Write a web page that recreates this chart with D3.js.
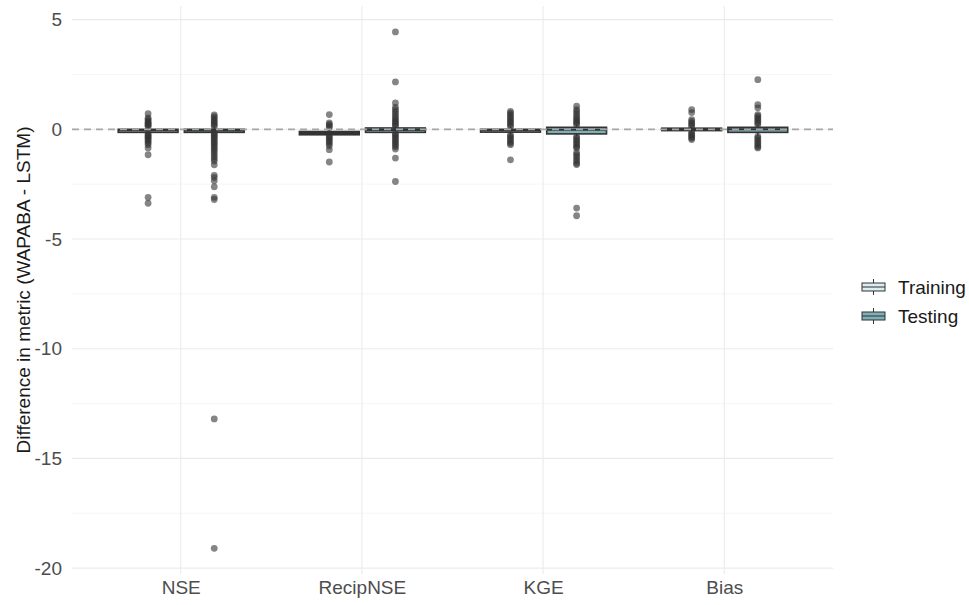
<!DOCTYPE html>
<html>
<head>
<meta charset="utf-8">
<script src="https://cdn.jsdelivr.net/npm/d3@7"></script>
<style>
  body { margin: 0; background: #fff; }
  text { font-family: "Liberation Sans", Arial, sans-serif; }
</style>
</head>
<body>
<svg id="chart" width="969" height="605"></svg>
<script>
// ---- Data ----
const categories = ["NSE", "RecipNSE", "KGE", "Bias"];
const seriesNames = ["Training", "Testing"];
const seriesFill = ["#d9edf3", "#7fb0b8"];

// box stats per category [Training, Testing]
const q1 = { NSE: [-0.14, -0.14], RecipNSE: [-0.25, -0.14], KGE: [-0.13, -0.21], Bias: [-0.06, -0.14] };
const med = { NSE: [-0.06, -0.06], RecipNSE: [-0.17, -0.03], KGE: [-0.06, -0.02], Bias: [0.0, 0.0] };
const q3 = { NSE: [0.0, 0.0], RecipNSE: [-0.1, 0.06], KGE: [0.0, 0.09], Bias: [0.05, 0.09] };
const whiskLo = { NSE: [-0.2, -0.16], RecipNSE: [-0.28, -0.18], KGE: [-0.25, -0.32], Bias: [-0.14, -0.32] };
const whiskHi = { NSE: [0.13, 0.14], RecipNSE: [0.08, 0.14], KGE: [0.13, 0.21], Bias: [0.13, 0.21] };

const outNSETrain = [0.71, 0.52, 0.45, 0.38, 0.32, 0.27, 0.22, 0.17, 0.13, -0.2, -0.25, -0.3, -0.36, -0.42, -0.48, -0.55, -0.62, -0.7, -0.85, -1.16, -3.1, -3.37];
const outNSETest = [0.66, 0.58, 0.5, 0.42, 0.35, 0.28, 0.2, 0.14, -0.16, -0.22, -0.28, -0.35, -0.42, -0.5, -0.58, -0.65, -0.72, -0.8, -0.88, -0.96, -1.05, -1.15, -1.25, -1.35, -1.45, -1.62, -2.1, -2.2, -2.35, -2.62, -3.1, -3.2, -13.2, -19.1];
const outRecipTrain = [0.67, 0.29, 0.22, 0.15, 0.08, -0.28, -0.35, -0.42, -0.5, -0.58, -0.66, -0.75, -0.93, -1.49];
const outRecipTest = [4.44, 2.16, 1.2, 1.0, 0.9, 0.8, 0.7, 0.6, 0.5, 0.42, 0.35, 0.28, 0.2, 0.14, -0.18, -0.25, -0.32, -0.4, -0.48, -0.56, -0.64, -0.72, -0.8, -0.9, -1.31, -2.38];
const outKGETrain = [0.82, 0.74, 0.66, 0.58, 0.5, 0.42, 0.35, 0.28, 0.2, 0.13, -0.25, -0.32, -0.4, -0.48, -0.56, -0.64, -0.7, -1.39];
const outKGETest = [1.05, 0.9, 0.8, 0.7, 0.6, 0.5, 0.42, 0.35, 0.28, 0.21, -0.32, -0.4, -0.48, -0.56, -0.64, -0.72, -0.8, -0.85, -1.07, -1.15, -1.25, -1.35, -1.45, -1.55, -1.61, -3.59, -3.94];
const outBiasTrain = [0.9, 0.76, 0.44, 0.36, 0.28, 0.2, 0.13, -0.14, -0.2, -0.27, -0.34, -0.4, -0.47];
const outBiasTest = [2.26, 1.12, 0.98, 0.67, 0.6, 0.52, 0.45, 0.37, 0.29, 0.21, -0.32, -0.4, -0.48, -0.56, -0.64, -0.72, -0.8, -0.85];

const outliers = {
  NSE: [outNSETrain, outNSETest],
  RecipNSE: [outRecipTrain, outRecipTest],
  KGE: [outKGETrain, outKGETest],
  Bias: [outBiasTrain, outBiasTest]
};

const yMajorTicks = [5, 0, -5, -10, -15, -20];
const yTickLabels = ["5", "0", "-5", "-10", "-15", "-20"];
const yMinorTicks = [2.5, -2.5, -7.5, -12.5, -17.5];
const yTitle = "Difference in metric (WAPABA - LSTM)";

// ---- Layout ----
const FONT = 19;
const svg = d3.select("#chart");
const panel = { left: 72, right: 833, top: 6, bottom: 574 };

const x = d3.scaleLinear().domain([0.4, categories.length + 0.6]).range([panel.left, panel.right]);
const y = d3.scaleLinear().domain([-20.27, 5.62]).range([panel.bottom, panel.top]);
const dodge = [-0.18, 0.185];
const boxW = 0.33;

// Grid
const g = svg.append("g");
g.selectAll(".minor").data(yMinorTicks).enter().append("line")
  .attr("x1", panel.left).attr("x2", panel.right)
  .attr("y1", d => y(d)).attr("y2", d => y(d))
  .attr("stroke", "#f2f2f2").attr("stroke-width", 0.8);
g.selectAll(".major").data(yMajorTicks).enter().append("line")
  .attr("x1", panel.left).attr("x2", panel.right)
  .attr("y1", d => y(d)).attr("y2", d => y(d))
  .attr("stroke", "#ebebeb").attr("stroke-width", 1.1);
g.selectAll(".vmajor").data(categories).enter().append("line")
  .attr("x1", (d, i) => x(i + 1)).attr("x2", (d, i) => x(i + 1))
  .attr("y1", panel.top).attr("y2", panel.bottom)
  .attr("stroke", "#ebebeb").attr("stroke-width", 1.1);

// Y axis labels
const yAxis = d3.axisLeft(y).tickValues(yMajorTicks).tickSize(0).tickPadding(10)
  .tickFormat((d, i) => yTickLabels[i]);
const ya = svg.append("g").attr("transform", `translate(${panel.left},0)`).call(yAxis);
ya.select(".domain").remove();
ya.selectAll("text").attr("font-size", FONT).attr("fill", "#4d4d4d")
  .style("font-family", '"Liberation Sans", Arial, sans-serif');

// X axis labels
const xAxis = d3.axisBottom(x).tickValues(categories.map((d, i) => i + 1)).tickSize(0).tickPadding(7)
  .tickFormat((d) => categories[d - 1]);
const xa = svg.append("g").attr("transform", `translate(0,${panel.bottom})`).call(xAxis);
xa.select(".domain").remove();
xa.selectAll("text").attr("font-size", FONT).attr("fill", "#4d4d4d")
  .style("font-family", '"Liberation Sans", Arial, sans-serif');

// Y title
svg.append("text")
  .attr("transform", `translate(30,${(panel.top + panel.bottom) / 2}) rotate(-90)`)
  .attr("text-anchor", "middle").attr("font-size", FONT).attr("fill", "#1a1a1a")
  .text(yTitle);

// Boxes
const boxes = svg.append("g");
categories.forEach((c, i) => {
  seriesNames.forEach((s, j) => {
    const cx = x(i + 1 + dodge[j]);
    const hw = (x(boxW) - x(0)) / 2;
    boxes.append("line").attr("x1", cx).attr("x2", cx)
      .attr("y1", y(q3[c][j])).attr("y2", y(whiskHi[c][j]))
      .attr("stroke", "#333").attr("stroke-width", 1.2);
    boxes.append("line").attr("x1", cx).attr("x2", cx)
      .attr("y1", y(q1[c][j])).attr("y2", y(whiskLo[c][j]))
      .attr("stroke", "#333").attr("stroke-width", 1.2);
    boxes.append("rect")
      .attr("x", cx - hw).attr("width", 2 * hw)
      .attr("y", y(q3[c][j])).attr("height", Math.max(0.5, y(q1[c][j]) - y(q3[c][j])))
      .attr("fill", seriesFill[j]).attr("stroke", "#333").attr("stroke-width", 1.6);
    boxes.append("line").attr("x1", cx - hw).attr("x2", cx + hw)
      .attr("y1", y(med[c][j])).attr("y2", y(med[c][j]))
      .attr("stroke", "#333").attr("stroke-width", 2);
    boxes.selectAll(null).data(outliers[c][j]).enter().append("circle")
      .attr("cx", cx).attr("cy", d => y(d)).attr("r", 3.4)
      .attr("fill", "#333").attr("fill-opacity", 0.6);
  });
});

// Zero reference dashed line
svg.append("line")
  .attr("x1", panel.left).attr("x2", panel.right)
  .attr("y1", y(0)).attr("y2", y(0))
  .attr("stroke", "#a6a6a6").attr("stroke-width", 1.8)
  .attr("stroke-dasharray", "7,5");

// Legend
const legend = svg.append("g");
const lgY = [287, 316];
seriesNames.forEach((s, j) => {
  const cy = lgY[j];
  const kx = 862, kw = 23;
  legend.append("line").attr("x1", kx + kw / 2).attr("x2", kx + kw / 2)
    .attr("y1", cy - 8).attr("y2", cy + 8).attr("stroke", "#333").attr("stroke-width", 1);
  legend.append("rect").attr("x", kx).attr("y", cy - 4).attr("width", kw).attr("height", 8)
    .attr("fill", seriesFill[j]).attr("stroke", "#333").attr("stroke-width", 1);
  legend.append("line").attr("x1", kx).attr("x2", kx + kw)
    .attr("y1", cy).attr("y2", cy).attr("stroke", "#333").attr("stroke-width", 1);
  legend.append("text").attr("x", 898).attr("y", cy).attr("dy", "0.35em")
    .attr("font-size", FONT).attr("fill", "#1a1a1a").text(s);
});
</script>
</body>
</html>
